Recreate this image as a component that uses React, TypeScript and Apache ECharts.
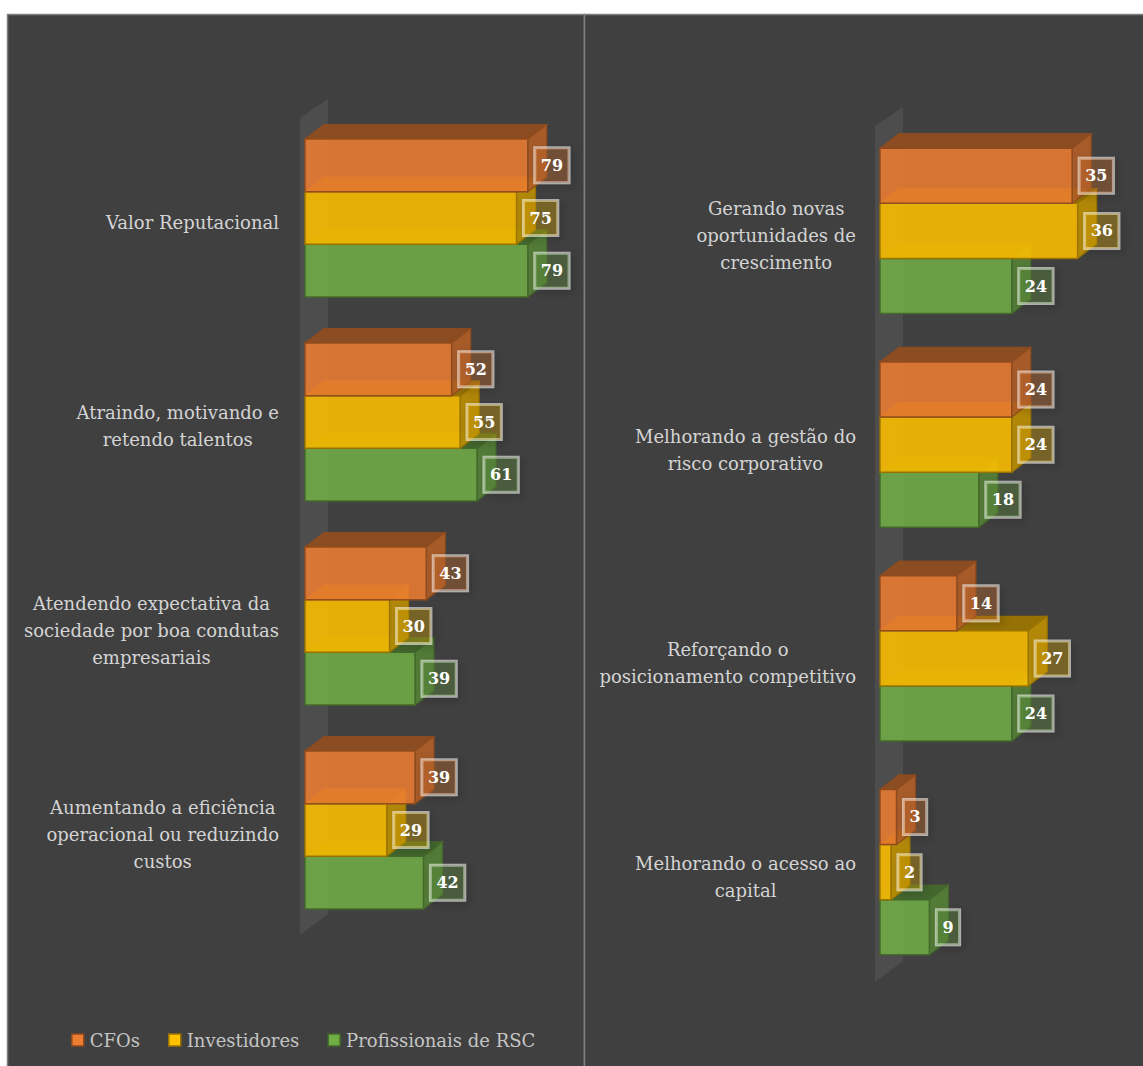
import React, { useEffect, useRef } from "react";
import * as echarts from "echarts";

const leftCategories = [
  "Valor Reputacional",
  "Atraindo, motivando e\nretendo talentos",
  "Atendendo expectativa da\nsociedade por boa condutas\nempresariais",
  "Aumentando a eficiência\noperacional ou reduzindo\ncustos",
];
const rightCategories = [
  "Gerando novas\noportunidades de\ncrescimento",
  "Melhorando a gestão do\nrisco corporativo",
  "Reforçando o\nposicionamento competitivo",
  "Melhorando o acesso ao\ncapital",
];
const seriesNames = ["CFOs", "Investidores", "Profissionais de RSC"];
const leftCFOs = [79, 52, 43, 39];
const leftInvestidores = [75, 55, 30, 29];
const leftRSC = [79, 61, 39, 42];
const rightCFOs = [35, 24, 14, 3];
const rightInvestidores = [36, 24, 27, 2];
const rightRSC = [24, 18, 24, 9];

const COLORS = ["#ED7D31", "#FFC000", "#70AD47"];
const FONT = '"DejaVu Serif", serif';
const BG = "#404040";

function hexToRgb(hex: string) {
  const n = parseInt(hex.slice(1), 16);
  return [(n >> 16) & 255, (n >> 8) & 255, n & 255];
}
function shade(hex: string, f: number, a = 1) {
  const [r, g, b] = hexToRgb(hex);
  return `rgba(${Math.round(r * f)},${Math.round(g * f)},${Math.round(b * f)},${a})`;
}

let measureCtx: CanvasRenderingContext2D | null = null;
function textWidth(s: string, font: string) {
  if (!measureCtx) measureCtx = document.createElement("canvas").getContext("2d");
  measureCtx!.font = font;
  return measureCtx!.measureText(s).width;
}

const BAR_FRAC = 0.258;
const DX = 19;
const DY = 14.5;

function barSeries(name: string, k: number, values: number[], axis: number) {
  const color = COLORS[k];
  return {
    type: "custom",
    name,
    xAxisIndex: axis,
    yAxisIndex: axis,
    z: 4 - k + 2,
    itemStyle: { color: color, borderColor: shade(color, 0.6) },
    encode: { x: 0, y: 1 },
    data: values.map((v, i) => [v, i]),
    renderItem: (params: any, api: any) => {
      const v = api.value(0);
      const i = api.value(1);
      const p0 = api.coord([0, i]);
      const p1 = api.coord([v, i]);
      const band = api.size([0, 1])[1];
      const h = band * BAR_FRAC;
      const y0 = p0[1] - 1.5 * h + k * h;
      const y1 = y0 + h;
      const x0 = p0[0];
      const x1 = p1[0];
      const stroke = shade(color, 0.6, 0.95);
      const rowCy = (y0 + y1) / 2;
      return {
        type: "group",
        children: [
          {
            type: "polygon",
            shape: { points: [[x0, y0], [x0 + DX, y0 - DY], [x1 + DX, y0 - DY], [x1, y0]] },
            style: { fill: shade(color, 0.62, 0.9), stroke, lineWidth: 1.2 },
          },
          {
            type: "polygon",
            shape: { points: [[x1, y0], [x1 + DX, y0 - DY], [x1 + DX, y1 - DY], [x1, y1]] },
            style: { fill: shade(color, 0.76, 0.88), stroke, lineWidth: 1.2 },
          },
          {
            type: "rect",
            shape: { x: x0, y: y0, width: x1 - x0, height: h },
            style: { fill: shade(color, 1, 0.87), stroke, lineWidth: 1.5 },
          },
          {
            type: "text",
            z2: 20,
            style: {
              text: String(v),
              x: x1 + 7,
              y: rowCy,
              align: "left",
              verticalAlign: "middle",
              fill: "#ffffff",
              fontSize: 16,
              fontWeight: "bold",
              fontFamily: FONT,
              lineHeight: 18,
              backgroundColor: shade(color, 0.9, 0.3),
              borderColor: "rgba(255,255,255,0.55)",
              borderWidth: 1.5,
              padding: [9, 6, 8, 6],
              shadowColor: "rgba(0,0,0,0.35)",
              shadowBlur: 8,
              shadowOffsetX: 3,
              shadowOffsetY: 3,
            },
          },
        ],
      };
    },
  };
}

function wallSeries(axis: number, count: number) {
  return {
    type: "custom",
    xAxisIndex: axis,
    yAxisIndex: axis,
    z: 1,
    silent: true,
    encode: { x: 0, y: 1 },
    data: [[0, 0]],
    renderItem: (params: any, api: any) => {
      const band = api.size([0, 1])[1];
      const pTop = api.coord([0, 0]);
      const pBot = api.coord([0, count - 1]);
      const top = pTop[1] - band / 2 + 2;
      const bot = pBot[1] + band / 2 + 3;
      const xa = pTop[0] - 5;
      const xb = pTop[0] + 23;
      return {
        type: "polygon",
        shape: { points: [[xa, top], [xb, top - 19], [xb, bot - 21], [xa, bot]] },
        style: { fill: "rgba(255,255,255,0.07)" },
      };
    },
  };
}

function labelSeries(axis: number, cats: string[], gap: number, shiftY: number) {
  const font = `18px ${FONT}`;
  return {
    type: "custom",
    xAxisIndex: axis,
    yAxisIndex: axis,
    z: 5,
    silent: true,
    encode: { x: 0, y: 1 },
    data: cats.map((_, i) => [0, i]),
    renderItem: (params: any, api: any) => {
      const i = api.value(1);
      const p = api.coord([0, i]);
      const text = cats[i];
      const w = Math.max(...text.split("\n").map((l) => textWidth(l, font)));
      return {
        type: "text",
        style: {
          text,
          x: p[0] - gap - w / 2,
          y: p[1] + shiftY,
          align: "center",
          verticalAlign: "middle",
          fill: "#d4d4d4",
          fontSize: 18,
          fontFamily: FONT,
          lineHeight: 27,
        },
      };
    },
  };
}

export default function App() {
  const ref = useRef<HTMLDivElement>(null);
  useEffect(() => {
    if (!ref.current) return;
    const chart = echarts.init(ref.current, null, { renderer: "svg" });
    const hiddenCat = (data: string[]) => ({
      type: "category",
      data,
      inverse: true,
      axisLine: { show: false },
      axisTick: { show: false },
      axisLabel: { show: false },
      splitLine: { show: false },
    });
    const hiddenVal = (max: number) => ({
      type: "value",
      min: 0,
      max,
      show: false,
      splitLine: { show: false },
    });
    chart.setOption({
      animation: false,
      backgroundColor: "#ffffff",
      grid: [
        { left: 305, width: 282, top: 116, height: 816 },
        { left: 880, width: 219.6, top: 124, height: 855 },
      ],
      xAxis: [
        { ...hiddenVal(100), gridIndex: 0 },
        { ...hiddenVal(40), gridIndex: 1 },
      ],
      yAxis: [
        { ...hiddenCat(leftCategories), gridIndex: 0 },
        { ...hiddenCat(rightCategories), gridIndex: 1 },
      ],
      legend: {
        data: seriesNames,
        left: 66,
        top: 1026,
        itemWidth: 12,
        itemHeight: 12,
        itemGap: 28,
        icon: "rect",
        itemStyle: { borderWidth: 1.5 },
        textStyle: { color: "#c4c4c4", fontSize: 18, fontFamily: FONT, padding: [0, 0, 0, 1] },
        selectedMode: false,
      },
      graphic: [
        {
          type: "rect",
          z: 0,
          silent: true,
          shape: { x: 7.5, y: 14.5, width: 577, height: 1060 },
          style: { fill: BG, stroke: "#7f7f7f", lineWidth: 1.5 },
        },
        {
          type: "rect",
          z: 0,
          silent: true,
          shape: { x: 584.5, y: 14.5, width: 570, height: 1060 },
          style: { fill: BG, stroke: "#7f7f7f", lineWidth: 1.5 },
        },
      ],
      series: [
        wallSeries(0, leftCategories.length),
        wallSeries(1, rightCategories.length),
        barSeries(seriesNames[2], 2, leftRSC, 0),
        barSeries(seriesNames[1], 1, leftInvestidores, 0),
        barSeries(seriesNames[0], 0, leftCFOs, 0),
        barSeries(seriesNames[2], 2, rightRSC, 1),
        barSeries(seriesNames[1], 1, rightInvestidores, 1),
        barSeries(seriesNames[0], 0, rightCFOs, 1),
        labelSeries(0, leftCategories, 26, 4),
        labelSeries(1, rightCategories, 24, 5),
      ],
    });
    return () => chart.dispose();
  }, []);
  return (
    <div
      ref={ref}
      style={{ position: "absolute", left: 0, top: 0, width: 1143, height: 1066, background: "#fff" }}
    />
  );
}
